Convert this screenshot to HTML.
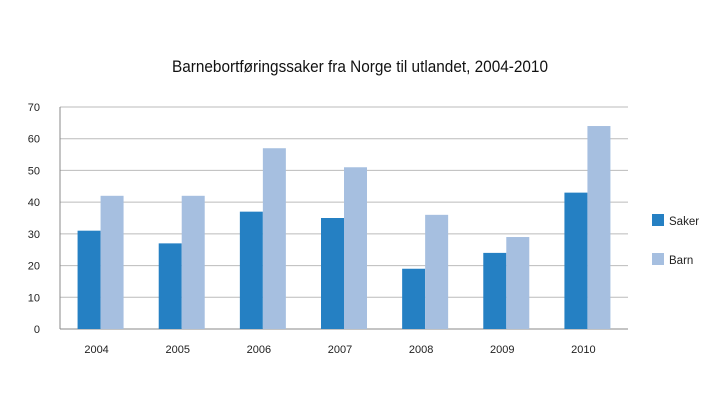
<!DOCTYPE html>
<html><head><meta charset="utf-8">
<style>
html,body{margin:0;padding:0;background:#fff;}
svg{display:block;font-family:"Liberation Sans",sans-serif;}
</style></head>
<body>
<svg id="chart" width="720" height="401" viewBox="0 0 720 401">
<text x="360" y="72" text-anchor="middle" font-size="16.5" textLength="376" lengthAdjust="spacingAndGlyphs" fill="#111">Barnebortføringssaker fra Norge til utlandet, 2004-2010</text>
<g id="grid"></g>
<g id="bars"></g>
<g id="xlabels"></g>
<g>
<rect x="652" y="214" width="12" height="12" fill="#2580c3"/>
<text x="669" y="225" font-size="11.5" fill="#222">Saker</text>
<rect x="652" y="253" width="12" height="12" fill="#a6bfe0"/>
<text x="669" y="264" font-size="11.5" fill="#222">Barn</text>
</g>
</svg>
<script>
const categories = ["2004","2005","2006","2007","2008","2009","2010"];
const saker = [31,27,37,35,19,24,43];
const barn = [42,42,57,51,36,29,64];
const yTicks = [0,10,20,30,40,50,60,70];

const NS="http://www.w3.org/2000/svg";
const X0=60,X1=628,Y0=329,Y1=107,YMAX=70;
const y=v=>Y0-(v/YMAX)*(Y0-Y1);
const band=(X1-X0)/categories.length;
const xc=i=>X0+band*(i+0.5);
function mk(t,a,p){const e=document.createElementNS(NS,t);for(const k in a)e.setAttribute(k,a[k]);p.appendChild(e);return e;}
const grid=document.getElementById('grid');
yTicks.forEach(v=>{
  const l=mk('line',{x1:X0,x2:X1,y1:y(v),y2:y(v),stroke:v===0?'#888':'#bbb','stroke-width':1},grid);
  
  
  const t=mk('text',{x:X0-20,y:y(v)+4,'text-anchor':'end','font-size':11,fill:'#222'},grid);
  t.textContent=v;
  
  
});
const ax=mk('line',{x1:X0,x2:X0,y1:Y1,y2:Y0,stroke:'#888','stroke-width':1},grid);


const bars=document.getElementById('bars'),xl=document.getElementById('xlabels');
const bw=23;
categories.forEach((c,i)=>{
  const cx=xc(i);
  const b1=mk('rect',{x:cx-bw,y:y(saker[i]),width:bw,height:Y0-y(saker[i]),fill:'#2580c3'},bars);
  
  
  const b2=mk('rect',{x:cx,y:y(barn[i]),width:bw,height:Y0-y(barn[i]),fill:'#a6bfe0'},bars);
  
  
  const t=mk('text',{x:cx-4,y:353,'text-anchor':'middle','font-size':11,fill:'#222'},xl);
  t.textContent=c;
  
  
});
</script>
</body></html>
